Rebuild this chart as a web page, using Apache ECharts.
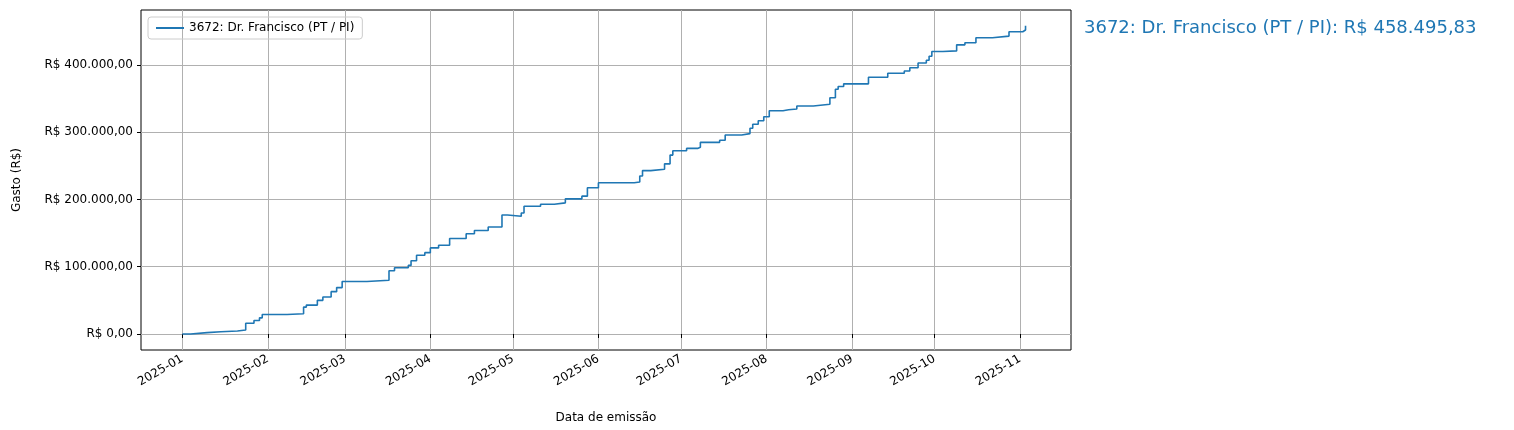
<html>
<script src="https://cdn.jsdelivr.net/npm/echarts@6/dist/echarts.min.js"></script>
<body style="margin:0">
    <div id="main" style="width:1514px;height:430px;"></div>
</body>
</html>

<script>
    var dates = ['2025-01-01', '2025-01-04', '2025-01-10', '2025-01-15', '2025-01-21', '2025-01-24', '2025-01-27', '2025-01-29',
        '2025-01-30', '2025-02-08', '2025-02-14', '2025-02-15', '2025-02-19', '2025-02-21', '2025-02-24', '2025-02-26',
        '2025-02-28', '2025-03-09', '2025-03-17', '2025-03-19', '2025-03-24', '2025-03-25', '2025-03-27', '2025-03-30',
        '2025-04-01', '2025-04-04', '2025-04-08', '2025-04-14', '2025-04-17', '2025-04-22', '2025-04-27', '2025-04-29',
        '2025-05-04', '2025-05-05', '2025-05-11', '2025-05-16', '2025-05-20', '2025-05-26', '2025-05-28', '2025-06-01',
        '2025-06-14', '2025-06-16', '2025-06-17', '2025-06-20', '2025-06-25', '2025-06-27', '2025-06-28', '2025-07-03',
        '2025-07-07', '2025-07-08', '2025-07-15', '2025-07-17', '2025-07-23', '2025-07-26', '2025-07-27', '2025-07-29',
        '2025-07-31', '2025-08-02', '2025-08-07', '2025-08-09', '2025-08-12', '2025-08-18', '2025-08-24', '2025-08-26',
        '2025-08-27', '2025-08-29', '2025-09-07', '2025-09-14', '2025-09-20', '2025-09-22', '2025-09-25', '2025-09-28',
        '2025-09-29', '2025-09-30', '2025-10-04', '2025-10-09', '2025-10-12', '2025-10-16', '2025-10-22', '2025-10-28',
        '2025-11-02', '2025-11-03'];
    var gasto = [0, 2000, 3400, 4500, 6000, 16000, 20000, 24000,
        29000, 30000, 40000, 43000, 50000, 55000, 63000, 69000,
        78000, 80000, 94000, 98600, 102000, 109000, 117000, 121000,
        128000, 132000, 142000, 149000, 154000, 159000, 177000, 175000,
        180000, 190000, 193000, 195000, 201000, 205000, 217500, 225000,
        226000, 235000, 243000, 245000, 253000, 266000, 272500, 276000,
        277600, 285000, 288000, 296000, 298000, 306000, 312000, 317000,
        323000, 332000, 333500, 334600, 339000, 341600, 351400, 364000,
        368000, 372000, 381700, 387700, 391000, 396000, 403000, 407000,
        413000, 420000, 421000, 430000, 433000, 440600, 443000, 449500,
        452000, 458495.83];
    var serieName = '3672: Dr. Francisco (PT / PI)';
    var totalLabel = '3672: Dr. Francisco (PT / PI): R$ 458.495,83';
    var yTicks = [0, 100000, 200000, 300000, 400000];
    var xTicks = ['2025-01-01', '2025-02-01', '2025-03-01', '2025-04-01', '2025-05-01', '2025-06-01',
        '2025-07-01', '2025-08-01', '2025-09-01', '2025-10-01', '2025-11-01'];

    function ts(d) { return new Date(d + 'T00:00:00Z').getTime(); }
    function brl(v) {
        var parts = v.toFixed(2).split('.');
        return 'R$ ' + parts[0].replace(/\B(?=(\d{3})+(?!\d))/g, '.') + ',' + parts[1];
    }
    var xTickTs = xTicks.map(ts);

    var myChart = echarts.init(document.getElementById('main'));
    var font = 'DejaVu Sans';
    var option = {
        animation: false,
        textStyle: { fontFamily: font },
        grid: { left: 141, right: 443, top: 10, bottom: 80, show: true, borderColor: '#000', borderWidth: 1 },
        title: {
            text: totalLabel, left: 1079, top: 14,
            textStyle: { color: '#1f77b4', fontSize: 18, fontWeight: 'normal', fontFamily: font }
        },
        legend: {
            left: 148, top: 17, orient: 'vertical',
            borderColor: '#ccc', borderWidth: 1, borderRadius: 3, padding: [5, 8],
            itemWidth: 28, itemHeight: 2, icon: 'rect',
            textStyle: { fontSize: 12, color: '#000', fontFamily: font }
        },
        xAxis: {
            type: 'value',
            min: ts('2024-12-17') ,
            max: ts('2025-11-19') + 43200000,
            name: 'Data de emissão', nameLocation: 'middle', nameGap: 62,
            nameTextStyle: { fontSize: 12, color: '#000' },
            axisLine: { show: false },
            axisTick: { show: true, length: 4, lineStyle: { color: '#000' }, customValues: xTickTs },
            axisLabel: {
                customValues: xTickTs, rotate: 30, fontSize: 12, color: '#000', margin: 8,
                formatter: v => { var d = new Date(v); return d.getUTCFullYear() + '-' + String(d.getUTCMonth() + 1).padStart(2, '0'); }
            },
            splitLine: { show: true, lineStyle: { color: '#b0b0b0', width: 1 } }
        },
        yAxis: {
            type: 'value', min: -23800, max: 481800,
            name: 'Gasto (R$)', nameLocation: 'middle', nameGap: 118,
            nameTextStyle: { fontSize: 12, color: '#000' },
            axisLine: { show: false },
            axisTick: { show: true, length: 4, lineStyle: { color: '#000' }, customValues: yTicks },
            axisLabel: { customValues: yTicks, fontSize: 12, color: '#000', margin: 8, formatter: v => brl(v) },
            splitLine: { show: true, lineStyle: { color: '#b0b0b0', width: 1 } }
        },
        series: [{
            name: serieName,
            type: 'line',
            step: 'end',
            showSymbol: false,
            color: '#1f77b4',
            lineStyle: { width: 1.6 },
            data: dates.map((d, i) => [ts(d), gasto[i]])
        }]
    };
    myChart.setOption(option);
</script>
